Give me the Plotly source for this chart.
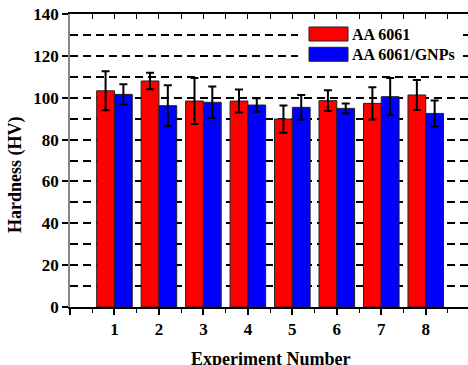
import plotly.graph_objects as go

# ---- data ----
experiments = [1, 2, 3, 4, 5, 6, 7, 8]
tick_labels = ["1", "2", "3", "4", "5", "6", "7", "8"]
aa6061 = [103.3, 108.0, 98.4, 98.4, 89.8, 98.6, 97.3, 101.3]
aa6061_err = [9.3, 3.9, 11.0, 5.5, 6.5, 5.0, 7.7, 7.2]
aa6061_gnps = [101.6, 96.2, 97.8, 96.5, 95.4, 94.9, 100.5, 92.5]
aa6061_gnps_err = [4.8, 9.8, 7.5, 3.2, 5.9, 2.3, 8.9, 6.2]
series_names = ["AA 6061", "AA 6061/GNPs"]
series_colors = ["#ff0000", "#0000ff"]

FONT = "Liberation Serif"
W, H = 468, 365
ML, MR, MT, MB = 70, 0, 14, 58
PW, PH = W - ML - MR, H - MT - MB


def px_to_paper(x, y):
    return (x - ML) / PW, (H - MB - y) / PH


fig = go.Figure()
for name, vals, errs, col in [
    (series_names[0], aa6061, aa6061_err, series_colors[0]),
    (series_names[1], aa6061_gnps, aa6061_gnps_err, series_colors[1]),
]:
    fig.add_trace(go.Bar(
        x=experiments, y=vals, name=name,
        marker=dict(color=col, line=dict(color="#222222", width=1)),
        error_y=dict(type="data", array=errs, visible=True,
                     color="black", thickness=2, width=4),
        showlegend=False,
    ))

# invisible trace for top mirror axis
fig.add_trace(go.Scatter(x=[0, 8.95], y=[0, 0], xaxis="x2", mode="markers",
                         marker=dict(opacity=0), showlegend=False, hoverinfo="skip"))

fig.update_layout(
    width=W, height=H,
    margin=dict(l=ML, r=MR, t=MT, b=MB, autoexpand=False),
    paper_bgcolor="white", plot_bgcolor="white",
    barmode="group", bargap=0.2, bargroupgap=0,
    font=dict(family=FONT, color="black"),
    xaxis=dict(
        range=[0, 8.95], automargin=False,
        tickvals=[0] + experiments, ticktext=[""] + tick_labels,
        ticks="outside", ticklen=6, tickwidth=1.5, tickcolor="black",
        minor=dict(dtick=0.5, tick0=0, ticks="outside", ticklen=4, tickwidth=1, tickcolor="black", showgrid=False),
        showline=True, linecolor="black", linewidth=1.5,
        showgrid=False, zeroline=False,
        tickfont=dict(family=FONT, size=17, color="black", weight="bold"),
    ),
    xaxis2=dict(
        overlaying="x", side="top", anchor="y", range=[0, 8.95], automargin=False,
        tickvals=[i * 0.5 for i in range(0, 18)],
        ticks="inside", ticklen=5, tickwidth=1, tickcolor="black",
        showticklabels=False, showline=True, linecolor="black", linewidth=1.5,
        showgrid=False, zeroline=False,
    ),
    yaxis=dict(
        range=[0, 140], dtick=20, tick0=0, automargin=False,
        ticks="outside", ticklen=6, tickwidth=1.5, tickcolor="black",
        showline=True, linecolor="#888888", linewidth=1.5,
        showgrid=True, gridcolor="black", gridwidth=2, griddash="8px,5px",
        minor=dict(dtick=10, tick0=0, showgrid=True, gridcolor="black", gridwidth=2, griddash="8px,5px", ticks=""),
        zeroline=False,
        tickfont=dict(family=FONT, size=17, color="black", weight="bold"),
    ),
)

# manual legend and axis titles
shapes = []
annotations = []
x0, y0 = px_to_paper(298, 19)
x1, y1 = px_to_paper(463, 66)
shapes.append(dict(type="rect", xref="paper", yref="paper", x0=x0, x1=x1, y0=y1, y1=y0,
                   fillcolor="white", line=dict(width=0), layer="above"))
for i, (name, col) in enumerate(zip(series_names, series_colors)):
    top = 27 + i * 20.3
    bx0, by0 = px_to_paper(309, top)
    bx1, by1 = px_to_paper(348, top + 14)
    shapes.append(dict(type="rect", xref="paper", yref="paper", x0=bx0, x1=bx1, y0=by1, y1=by0,
                       fillcolor=col, line=dict(color="#222222", width=1), layer="above"))
    tx, ty = px_to_paper(350, top + 7)
    annotations.append(dict(xref="paper", yref="paper", x=tx, y=ty, xanchor="left", yanchor="middle",
                            text="<b>%s</b>" % name, showarrow=False,
                            font=dict(family=FONT, size=16, color="black")))
yx, yy = px_to_paper(15, 175)
annotations.append(dict(xref="paper", yref="paper", x=yx, y=yy, xanchor="center", yanchor="middle",
                        text="<b>Hardness (HV)</b>", textangle=-90, showarrow=False,
                        font=dict(family=FONT, size=18, color="black")))
xx, xy = px_to_paper(270, 359)
annotations.append(dict(xref="paper", yref="paper", x=xx, y=xy, xanchor="center", yanchor="middle",
                        text="<b>Experiment Number</b>", showarrow=False,
                        font=dict(family=FONT, size=18, color="black")))
fig.update_layout(shapes=shapes, annotations=annotations)

fig.write_html("out.html")
